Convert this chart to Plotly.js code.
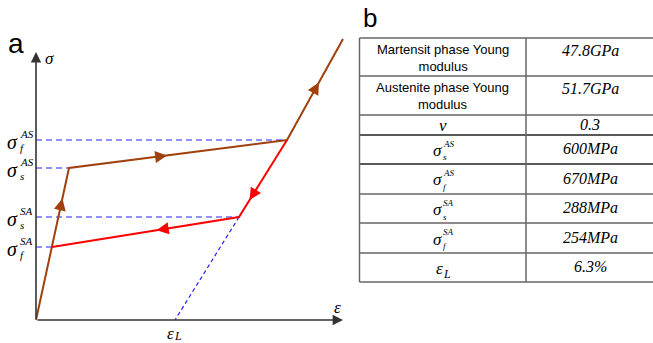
<!DOCTYPE html>
<html><head><meta charset="utf-8">
<script src="https://cdn.plot.ly/plotly-3.0.1.min.js"></script>
<style>html,body{margin:0;padding:0;background:#fff}#chart{width:653px;height:343px}</style>
</head><body><div id="chart"></div>
<script>
// ---- Panel a: schematic stress-strain path (schematic units) ----
const loadStrain   = [0, 33, 251, 307];
const loadStress   = [0, 152, 180, 281];
const unloadStrain = [251, 203, 16];
const unloadStress = [180, 103, 73];
const epsLStrain   = 139;
const axisTopStress = 268;
const axisEndStrain = 307;
// sigma levels: label parts, stress level, strain where the dashed guide ends
const levelSub    = ['f', 's', 's', 'f'];
const levelSup    = ['AS', 'AS', 'SA', 'SA'];
const levelStress = [180, 152, 103, 73];
const levelEndStrain = [251, 33, 203, 16];

// ---- Panel b: material parameters ----
const paramNames = ['Martensit phase Young<br>modulus', 'Austenite phase Young<br>modulus', '', '', '', '', '', ''];
const paramSymBase = ['', '', 'ν', 'σ', 'σ', 'σ', 'σ', 'ε'];
const paramSymSub  = ['', '', '', 's', 'f', 's', 'f', 'L'];
const paramSymSup  = ['', '', '', 'AS', 'AS', 'SA', 'SA', ''];
const paramValues  = ['47.8GPa', '51.7GPa', '0.3', '600MPa', '670MPa', '288MPa', '254MPa', '6.3%'];

const W = 653, H = 343;
const BROWN = '#a0410d', RED = '#ff0000', BLUE = '#2222ff', AXC = '#333333';
const SERIF = 'Liberation Serif, Times New Roman, serif';
const SANS = 'Liberation Sans, Arial, sans-serif';

const traces = [];
// blue dashed guides
for (let i = 0; i < levelStress.length; i++) {
  traces.push({x: [0, levelEndStrain[i]], y: [levelStress[i], levelStress[i]], mode: 'lines',
    line: {color: BLUE, width: 1.2, dash: '6px,4px'}, hoverinfo: 'skip'});
}
traces.push({x: [unloadStrain[1], epsLStrain], y: [unloadStress[1], 0], mode: 'lines',
  line: {color: BLUE, width: 1.2, dash: '4px,3px'}, hoverinfo: 'skip'});
traces.push({x: loadStrain, y: loadStress, mode: 'lines', line: {color: BROWN, width: 2}, hoverinfo: 'skip'});
traces.push({x: unloadStrain, y: unloadStress, mode: 'lines', line: {color: RED, width: 2}, hoverinfo: 'skip'});

const ann = [];
const shapes = [];
function segArrow(xs, ys, i, f, color) {
  const x0 = xs[i], y0 = ys[i], x1 = xs[i+1], y1 = ys[i+1];
  const tx = x0 + f*(x1-x0), ty = y0 + f*(y1-y0);
  const len = Math.hypot(x1-x0, y1-y0);
  const back = 14 / len;
  ann.push({x: tx, y: ty, ax: tx - back*(x1-x0), ay: ty - back*(y1-y0), xref: 'x', yref: 'y', axref: 'x', ayref: 'y',
    text: '', showarrow: true, arrowhead: 2, arrowsize: 1.6, arrowwidth: 1.5, arrowcolor: color, standoff: 0});
}
segArrow(loadStrain, loadStress, 0, 0.80, BROWN);
segArrow(loadStrain, loadStress, 1, 0.45, BROWN);
segArrow(loadStrain, loadStress, 2, 0.57, BROWN);
segArrow(unloadStrain, unloadStress, 0, 0.78, RED);
segArrow(unloadStrain, unloadStress, 1, 0.44, RED);

// axes with arrows
ann.push({x: 0, y: axisTopStress, ax: 0, ay: 0, xref: 'x', yref: 'y', axref: 'x', ayref: 'y', text: '',
  showarrow: true, arrowhead: 2, arrowsize: 1.3, arrowwidth: 1.6, arrowcolor: AXC, standoff: 0});
ann.push({x: axisEndStrain, y: 0, ax: 0, ay: 0, xref: 'x', yref: 'y', axref: 'x', ayref: 'y', text: '',
  showarrow: true, arrowhead: 2, arrowsize: 1.3, arrowwidth: 1.6, arrowcolor: AXC, standoff: 0});

function txt(x, y, text, size, font, xref, yref, xanchor) {
  ann.push({x: x, y: y, xref: xref || 'x', yref: yref || 'y', text: text, showarrow: false, borderpad: 0,
    font: {family: font || SERIF, size: size, color: '#000'}, xanchor: xanchor || 'center', yanchor: 'middle'});
}
// paper helpers (pixel -> paper)
const px = v => v / W, py = v => 1 - v / H;

// axis labels
txt(13, axisTopStress - 6, '<i>σ</i>', 17);
txt(axisEndStrain - 6, 13, '<i>ε</i>', 17);
txt(epsLStrain - 5, -13, '<i>ε</i>', 17);
txt(epsLStrain - 2, -16, '<i>L</i>', 12, SERIF, 'x', 'y', 'left');
// sigma level labels on left
for (let i = 0; i < levelStress.length; i++) {
  txt(-24, levelStress[i] - 2, '<i>σ</i>', 20);
  txt(-17, levelStress[i] + 6, '<i>' + levelSup[i] + '</i>', 11, SERIF, 'x', 'y', 'left');
  txt(-17, levelStress[i] - 8, '<i>' + levelSub[i] + '</i>', 11, SERIF, 'x', 'y', 'left');
}
// panel letters
txt(px(16), py(43), 'a', 28, SANS, 'paper', 'paper');
txt(px(370), py(18), 'b', 26, SANS, 'paper', 'paper');

// table
const rowEdges = [38, 76, 115, 135, 164, 194, 223, 253, 282];
const tabLeft = 359.5, tabMid = 526, tabRight = 660;
for (let r = 0; r < rowEdges.length; r++) {
  shapes.push({type: 'line', xref: 'paper', yref: 'paper', x0: px(tabLeft), x1: px(tabRight),
    y0: py(rowEdges[r]), y1: py(rowEdges[r]), line: {color: (r === 3 || r === 4) ? '#222' : '#666', width: 1.5}});
}
[tabLeft, tabMid].forEach(xv => shapes.push({type: 'line', xref: 'paper', yref: 'paper', x0: px(xv), x1: px(xv),
  y0: py(rowEdges[0]), y1: py(rowEdges[rowEdges.length-1]), line: {color: '#666', width: 1.5}}));

for (let r = 0; r < paramValues.length; r++) {
  const top = rowEdges[r], bot = rowEdges[r+1], mid = (top + bot) / 2;
  const cx = (tabLeft + tabMid) / 2;
  if (paramNames[r]) {
    txt(px(cx), py(mid + 1), paramNames[r], 13, SANS, 'paper', 'paper');
    txt(px(590), py(top + 12), '<i>' + paramValues[r] + '</i>', 16, SERIF, 'paper', 'paper');
  } else {
    const base = paramSymBase[r];
    const off = paramSymSup[r] ? -5 : (paramSymSub[r] ? -3 : 0);
    txt(px(cx + off), py(mid + 1), '<i>' + base + '</i>', 17, SERIF, 'paper', 'paper');
    const subX = paramSymSup[r] ? cx + off + 4 : cx + off + 2;
    if (paramSymSup[r]) txt(px(subX), py(mid - 6), '<i>' + paramSymSup[r] + '</i>', 9, SERIF, 'paper', 'paper', 'left');
    if (paramSymSub[r]) {
      const dy = paramSymSup[r] ? 8 : 6;
      txt(px(subX), py(mid + dy), '<i>' + paramSymSub[r] + '</i>', paramSymSup[r] ? 9 : 12, SERIF, 'paper', 'paper', 'left');
    }
    txt(px(590), py(mid - 1), '<i>' + paramValues[r] + '</i>', 16, SERIF, 'paper', 'paper');
  }
}

const layout = {
  width: W, height: H, margin: {l: 0, r: 0, t: 0, b: 0}, showlegend: false,
  paper_bgcolor: '#fff', plot_bgcolor: '#fff',
  xaxis: {range: [-36, W - 36], visible: false, fixedrange: true},
  yaxis: {range: [-(H - 320), 320], visible: false, fixedrange: true},
  annotations: ann, shapes: shapes
};
Plotly.newPlot('chart', traces, layout, {staticPlot: true, displayModeBar: false});
</script></body></html>
